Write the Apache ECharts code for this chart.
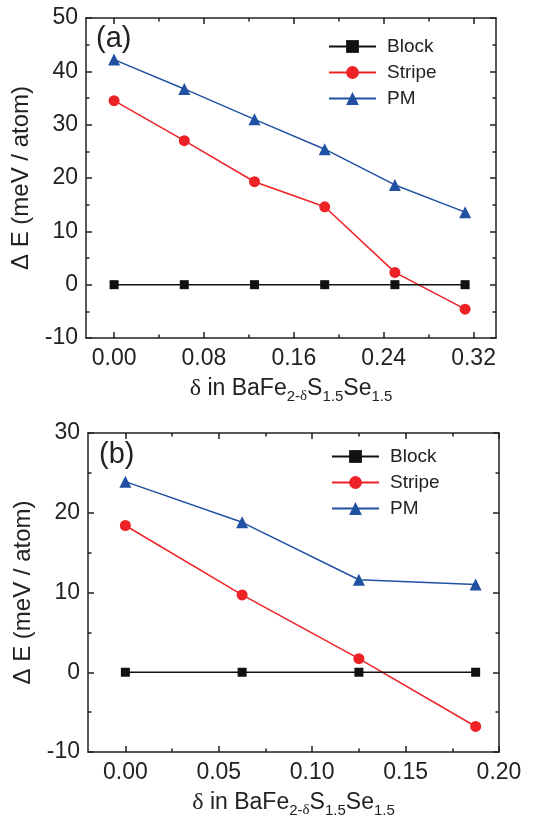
<!DOCTYPE html>
<html>
<head>
<meta charset="utf-8">
<script src="https://cdn.jsdelivr.net/npm/echarts@6/dist/echarts.min.js"></script>
<style>html,body{margin:0;padding:0;background:#fff;}#c{width:538px;height:821px;}</style>
</head>
<body>
<div id="c"></div>
<script>
// ---- data ----
const seriesNames = ['Block', 'Stripe', 'PM'];
const xA = [0, 0.0625, 0.125, 0.1875, 0.25, 0.3125];
const blockA = [0, 0, 0, 0, 0, 0];
const stripeA = [34.5, 27.0, 19.3, 14.6, 2.3, -4.6];
const pmA = [42.2, 36.7, 31.0, 25.4, 18.7, 13.6];
const xB = [0, 0.0625, 0.125, 0.1875];
const blockB = [0, 0, 0, 0];
const stripeB = [18.4, 9.7, 1.7, -6.8];
const pmB = [23.9, 18.8, 11.6, 11.0];
const xMajorA = [0, 0.08, 0.16, 0.24, 0.32];
const xMinorA = [0.04, 0.12, 0.20, 0.28];
const xMajorB = [0, 0.05, 0.10, 0.15, 0.20];
const xMinorB = [0.025, 0.075, 0.125, 0.175];
const panelLabels = ['(a)', '(b)'];

const FONT = '"Liberation Sans", Arial, sans-serif';
const INK = '#222';
const COLORS = { Block: '#111111', Stripe: '#ee2226', PM: '#2151a3' };
const SYMBOLS = { Block: 'rect', Stripe: 'circle', PM: 'triangle' };
const SIZES = { Block: 9, Stripe: 11, PM: 12 };

const xName = '{d|δ}{a| in BaFe}{s|2-}{sd|δ}{a|S}{s|1.5}{a|Se}{s|1.5}';
const xNameRich = {
  a: { fontSize: 23, fontFamily: FONT, color: INK, verticalAlign: 'top', lineHeight: 26 },
  d: { fontSize: 24, fontFamily: '"Liberation Serif", serif', color: INK, verticalAlign: 'top', lineHeight: 26 },
  s: { fontSize: 15, fontFamily: FONT, color: INK, verticalAlign: 'top', lineHeight: 15, padding: [12, 0, 0, 0] },
  sd: { fontSize: 15, fontFamily: '"Liberation Serif", serif', color: INK, verticalAlign: 'top', lineHeight: 15, padding: [12, 0, 0, 0] }
};
const lineStyle = { color: INK, width: 1.5 };

function xAxes(gridIndex, min, max, major, minor) {
  const base = { type: 'value', gridIndex, min, max, splitLine: { show: false } };
  return [
    Object.assign({}, base, {
      position: 'bottom',
      axisLine: { show: true, lineStyle, onZero: false },
      axisTick: { inside: true, length: 6, customValues: major, lineStyle },
      axisLabel: { customValues: major, formatter: v => v.toFixed(2), fontSize: 23, fontFamily: FONT, color: INK, margin: 9 },
      name: xName, nameLocation: 'middle', nameGap: 39,
      nameTextStyle: { rich: xNameRich }
    }),
    Object.assign({}, base, {
      position: 'bottom',
      axisLine: { show: false, onZero: false },
      axisTick: { inside: true, length: 3.5, customValues: minor, lineStyle },
      axisLabel: { show: false }
    }),
    Object.assign({}, base, {
      position: 'top',
      axisLine: { show: true, lineStyle, onZero: false },
      axisTick: { inside: true, length: 6, customValues: major, lineStyle },
      axisLabel: { show: false }
    }),
    Object.assign({}, base, {
      position: 'top',
      axisLine: { show: false, onZero: false },
      axisTick: { inside: true, length: 3.5, customValues: minor, lineStyle },
      axisLabel: { show: false }
    })
  ];
}

function yAxes(gridIndex, min, max) {
  const base = { type: 'value', gridIndex, min, max, interval: 10, splitLine: { show: false },
    minorTick: { show: true, splitNumber: 2, length: 3.5, lineStyle } };
  return [
    Object.assign({}, base, {
      position: 'left',
      axisLine: { show: true, lineStyle, onZero: false },
      axisTick: { inside: true, length: 6, lineStyle },
      axisLabel: { fontSize: 23, fontFamily: FONT, color: INK, margin: 8 },
      name: 'Δ E (meV / atom)', nameLocation: 'middle', nameGap: 52, nameRotate: 90,
      nameTextStyle: { fontSize: 24, fontFamily: FONT, color: INK }
    }),
    Object.assign({}, base, {
      position: 'right',
      axisLine: { show: true, lineStyle, onZero: false },
      axisTick: { inside: true, length: 6, lineStyle },
      axisLabel: { show: false }
    })
  ];
}

function makeSeries(xs, ys, name, xi, yi) {
  return {
    type: 'line', name, xAxisIndex: xi, yAxisIndex: yi,
    data: xs.map((x, i) => [x, ys[i]]),
    symbol: SYMBOLS[name], symbolSize: SIZES[name], showSymbol: true,
    itemStyle: { color: COLORS[name] },
    lineStyle: { color: COLORS[name], width: 1.5 },
    z: name === 'Block' ? 3 : 2
  };
}

function legend(left, top) {
  return {
    orient: 'vertical', left, top, padding: 0, itemGap: 5,
    itemWidth: 47, itemHeight: 16,
    data: seriesNames,
    textStyle: { fontSize: 19, fontFamily: FONT, color: INK, lineHeight: 21, padding: [0, 0, 0, 6] }
  };
}

const option = {
  animation: false,
  backgroundColor: '#fff',
  grid: [
    { left: 86, top: 18, width: 410, height: 320 },
    { left: 88, top: 433, width: 411, height: 319 }
  ],
  xAxis: [].concat(
    xAxes(0, -0.025, 0.34, xMajorA, xMinorA),
    xAxes(1, -0.02, 0.20, xMajorB, xMinorB)
  ),
  yAxis: [].concat(yAxes(0, -10, 50), yAxes(1, -10, 30)),
  legend: [legend(328, 36), legend(331, 446)],
  graphic: [
    { type: 'text', left: 96, top: 24, style: { text: panelLabels[0], fontSize: 29, fontFamily: FONT, fill: INK } },
    { type: 'text', left: 99, top: 440, style: { text: panelLabels[1], fontSize: 29, fontFamily: FONT, fill: INK } }
  ],
  series: [
    makeSeries(xA, blockA, 'Block', 0, 0),
    makeSeries(xA, stripeA, 'Stripe', 0, 0),
    makeSeries(xA, pmA, 'PM', 0, 0),
    makeSeries(xB, blockB, 'Block', 4, 2),
    makeSeries(xB, stripeB, 'Stripe', 4, 2),
    makeSeries(xB, pmB, 'PM', 4, 2)
  ]
};
echarts.init(document.getElementById('c')).setOption(option);
</script>
</body>
</html>
